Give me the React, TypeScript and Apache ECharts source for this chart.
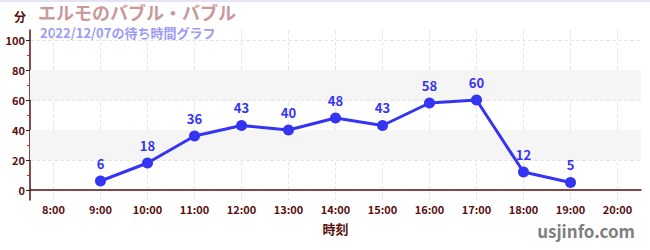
import React, { useEffect, useRef } from "react";
import * as echarts from "echarts";

const categories = ["8:00", "9:00", "10:00", "11:00", "12:00", "13:00", "14:00", "15:00", "16:00", "17:00", "18:00", "19:00", "20:00"];
const waitTimes: (number | null)[] = [null, 6, 18, 36, 43, 40, 48, 43, 58, 60, 12, 5, null];
const yTicks = [0, 20, 40, 60, 80, 100];
const yMinorTicks = [10, 30, 50, 70, 90];
const shadedBands = [[20, 40], [60, 80]];

const FONT = "'Noto Sans CJK JP', 'Noto Sans', sans-serif";
const AXIS = "#5a0f0f";
const BLUE = "#3434f2";

export default function App() {
  const ref = useRef<HTMLDivElement>(null);
  useEffect(() => {
    document.body.style.margin = "0";
    const chart = echarts.init(ref.current!, null, { renderer: "svg" });
    chart.setOption({
      animation: false,
      textStyle: { fontFamily: FONT },
      grid: { left: 30, right: 9, top: 30, bottom: 50 },
      graphic: [
        { type: "rect", left: 0, top: 0, shape: { width: 650, height: 2 }, style: { fill: "#e4e4f6" } },
        { type: "text", left: 14, top: 10, style: { text: "分", fill: AXIS, font: `bold 12px ${FONT}` } },
        { type: "text", left: 38, top: 3, style: { text: "エルモのバブル・バブル", fill: "#c9999b", font: `bold 18px ${FONT}`, lineHeight: 18 } },
        { type: "text", left: 40, top: 26, style: { text: "2022/12/07の待ち時間グラフ", fill: "#9b9bf5", font: `bold 13px ${FONT}`, lineHeight: 13 } },
        { type: "text", right: 15, top: 222, style: { text: "usjinfo.com", fill: "#7f7f7f", font: `bold 17px ${FONT}` } },
      ],
      xAxis: {
        type: "category",
        data: categories,
        boundaryGap: true,
        name: "時刻",
        nameLocation: "middle",
        nameGap: 22,
        nameTextStyle: { color: AXIS, fontWeight: "bold", fontSize: 13, fontFamily: FONT },
        axisLine: { lineStyle: { color: AXIS, width: 1.5 } },
        axisTick: { alignWithLabel: true, length: 4, lineStyle: { color: "#555" } },
        axisLabel: { color: AXIS, fontSize: 11, fontWeight: "bold", margin: 3, interval: 0 },
        splitLine: { show: true, alignWithLabel: true, interval: 0, lineStyle: { color: "#e6e6e6", type: "dashed" } },
      },
      yAxis: [
        {
          type: "value",
          min: -20 / 3,
          max: 320 / 3,
          axisLine: { show: true, lineStyle: { color: AXIS, width: 1.5 } },
          axisTick: { show: true, length: 4, customValues: yTicks, lineStyle: { color: "#222" } },
          axisLabel: { color: AXIS, fontSize: 11, fontWeight: "bold", margin: 5, customValues: yTicks },
          splitLine: { show: true, customValues: yTicks, lineStyle: { color: "#e6e6e6", type: "dashed" } },
        },
        {
          type: "value",
          min: -20 / 3,
          max: 320 / 3,
          position: "left",
          axisLine: { show: false },
          axisTick: { show: true, length: 3, customValues: yMinorTicks, lineStyle: { color: "#e02020" } },
          axisLabel: { show: false },
          splitLine: { show: false },
        },
      ],
      series: [
        {
          type: "line",
          data: waitTimes,
          yAxisIndex: 0,
          color: BLUE,
          lineStyle: { width: 3, color: BLUE },
          symbol: "circle",
          symbolSize: 11,
          itemStyle: { color: BLUE },
          label: { show: true, position: "top", distance: 6, color: BLUE, fontWeight: "bold", fontSize: 13 },
          markArea: {
            silent: true,
            itemStyle: { color: "#f5f5f5" },
            data: shadedBands.map(([a, b]) => [{ yAxis: a }, { yAxis: b }]),
          },
          z: 3,
        },
      ],
    });
    return () => chart.dispose();
  }, []);
  return <div ref={ref} style={{ width: 650, height: 250 }} />;
}
